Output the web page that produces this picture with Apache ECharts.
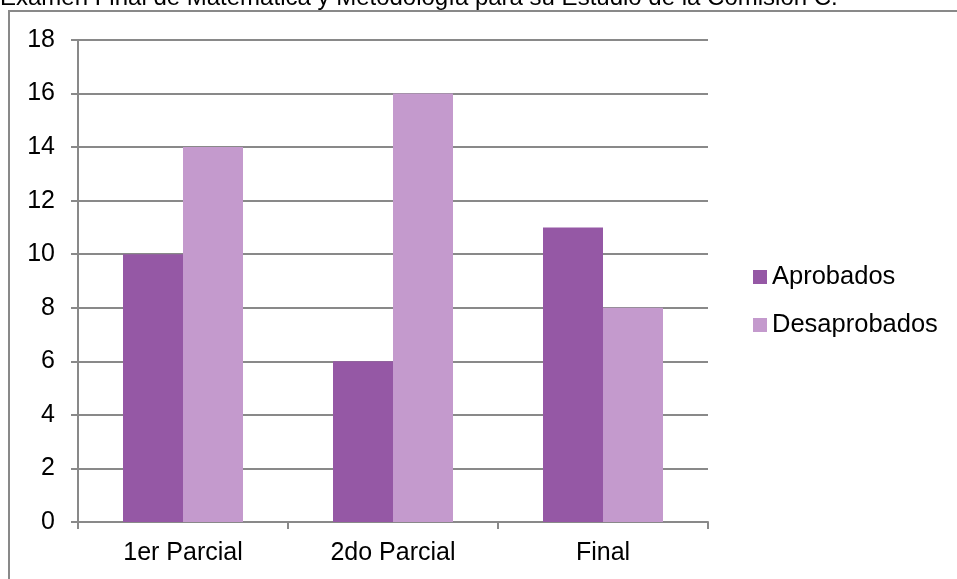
<!DOCTYPE html>
<html>
<head>
<meta charset="utf-8">
<script src="https://cdn.jsdelivr.net/npm/echarts@6/dist/echarts.min.js"></script>
<style>
html,body{margin:0;padding:0;background:#fff;}
#chart{width:957px;height:579px;}
</style>
</head>
<body>
<div id="chart"></div>
<script>
"use strict";

const categories = ["1er Parcial", "2do Parcial", "Final"];
const aprobados = [10, 6, 11];
const desaprobados = [14, 16, 8];
const yTicks = {min: 0, max: 18, interval: 2};
const titleText = "Examen Final de Matemática y Metodología para su Estudio de la Comisión C.";

const font = "Liberation Sans, Arial, sans-serif";
const grey = "#898989";
const myChart = echarts.init(document.getElementById("chart"));

myChart.setOption({
	backgroundColor: "#fff",
	animation: false,
	textStyle: {fontFamily: font},
	graphic: [
		{
			type: "rect",
			shape: {x: 9, y: 11, width: 1000, height: 1000},
			style: {fill: "none", stroke: grey, lineWidth: 2}
		},
		{
			type: "text",
			x: 0, y: 10,
			style: {text: titleText, font: "24px " + font, fill: "#000", verticalAlign: "bottom"}
		}
	],
	grid: {left: 78, right: 249, top: 40, bottom: 57, containLabel: false},
	legend: {
		orient: "vertical",
		left: 748, top: 259,
		itemWidth: 14, itemHeight: 14, itemGap: 22,
		icon: "rect",
		textStyle: {fontSize: 25.5, color: "#000", fontFamily: font},
		data: ["Aprobados", "Desaprobados"]
	},
	xAxis: {
		type: "category",
		data: categories,
		boundaryGap: true,
		axisLine: {lineStyle: {color: grey, width: 2}},
		axisTick: {show: true, length: 7, lineStyle: {color: grey, width: 2}},
		axisLabel: {fontSize: 25, color: "#000", margin: 19, fontFamily: font},
		splitLine: {show: false}
	},
	yAxis: {
		type: "value",
		min: yTicks.min, max: yTicks.max, interval: yTicks.interval,
		axisLine: {show: true, lineStyle: {color: grey, width: 2}},
		axisTick: {show: true, length: 7, lineStyle: {color: grey, width: 2}},
		axisLabel: {fontSize: 25, color: "#000", margin: 23, fontFamily: font},
		splitLine: {show: true, lineStyle: {color: grey, width: 2}}
	},
	series: [
		{
			name: "Aprobados", type: "bar", data: aprobados,
			barWidth: 60, barGap: "0%",
			itemStyle: {color: "#9558A5"}
		},
		{
			name: "Desaprobados", type: "bar", data: desaprobados,
			barWidth: 60, barGap: "0%",
			itemStyle: {color: "#C49ACD"}
		}
	]
});
</script>
</body>
</html>
